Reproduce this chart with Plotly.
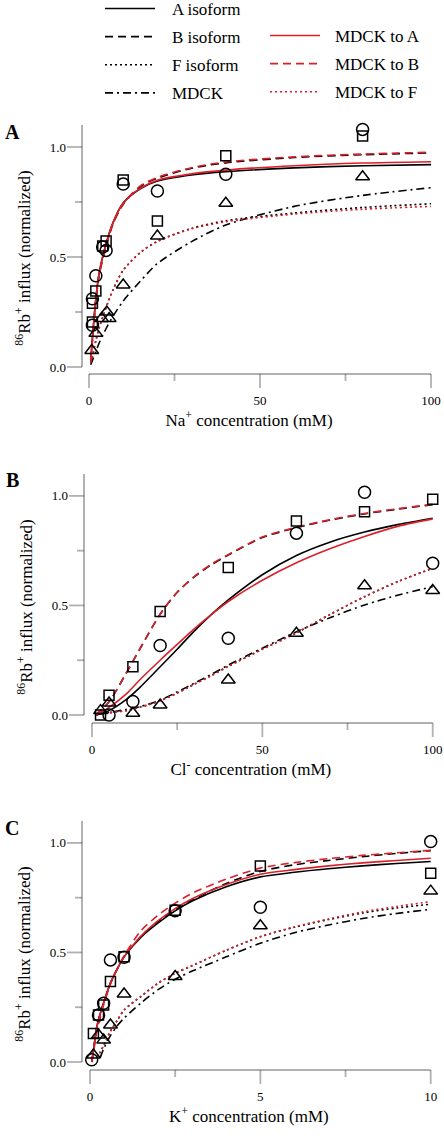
import plotly.graph_objects as go

# ---------------- data ----------------
# Panel A : Na+ dependence
na_fit_x = [0.5, 1, 2, 3, 5, 7, 10, 15, 20, 30, 40, 60, 80, 100]
na_fit_A = [0.03, 0.13, 0.31, 0.43, 0.56, 0.655, 0.745, 0.81, 0.845, 0.873, 0.888, 0.905, 0.915, 0.92]
na_fit_A_red = [0.03, 0.13, 0.31, 0.43, 0.56, 0.655, 0.745, 0.812, 0.849, 0.878, 0.895, 0.915, 0.927, 0.933]
na_fit_B = [0.03, 0.12, 0.3, 0.42, 0.55, 0.65, 0.74, 0.82, 0.858, 0.903, 0.928, 0.952, 0.965, 0.973]
na_fit_B_red = [0.03, 0.12, 0.3, 0.42, 0.55, 0.65, 0.742, 0.823, 0.862, 0.906, 0.932, 0.955, 0.968, 0.976]
na_fit_F = [0.02, 0.05, 0.12, 0.18, 0.27, 0.35, 0.44, 0.52, 0.572, 0.63, 0.665, 0.70, 0.725, 0.742]
na_fit_F_red = [0.02, 0.05, 0.12, 0.18, 0.27, 0.35, 0.44, 0.52, 0.57, 0.628, 0.66, 0.695, 0.717, 0.73]
na_fit_M = [0.01, 0.03, 0.07, 0.11, 0.175, 0.23, 0.30, 0.39, 0.47, 0.57, 0.645, 0.73, 0.78, 0.815]

na_circ_x = [1, 1, 2, 4, 5, 10, 20, 40, 80]
na_circ_y = [0.19, 0.31, 0.415, 0.545, 0.53, 0.832, 0.80, 0.876, 1.08]
na_sq_x = [1, 1, 2, 4, 5, 10, 20, 40, 80]
na_sq_y = [0.205, 0.29, 0.345, 0.55, 0.573, 0.85, 0.664, 0.96, 1.05]
na_tri_x = [0.8, 2, 3.7, 5.2, 5.9, 10, 20, 40, 80]
na_tri_y = [0.075, 0.153, 0.22, 0.25, 0.22, 0.373, 0.595, 0.744, 0.865]

# Panel B : Cl- dependence
cl_fit_x = [1, 5, 10, 14, 20, 25, 30, 35, 40, 50, 60, 70, 80, 90, 100]
cl_fit_A = [0.0, 0.02, 0.07, 0.125, 0.22, 0.3, 0.383, 0.458, 0.525, 0.64, 0.728, 0.79, 0.835, 0.87, 0.898]
cl_fit_A_red = [0.0, 0.035, 0.095, 0.16, 0.25, 0.322, 0.393, 0.458, 0.518, 0.615, 0.695, 0.76, 0.815, 0.862, 0.895]
cl_fit_B = [0.0, 0.06, 0.19, 0.30, 0.46, 0.56, 0.63, 0.685, 0.73, 0.81, 0.855, 0.89, 0.918, 0.94, 0.96]
cl_fit_B_red = [0.0, 0.06, 0.19, 0.30, 0.46, 0.56, 0.632, 0.688, 0.732, 0.812, 0.857, 0.892, 0.92, 0.942, 0.962]
cl_fit_F = [0.0, 0.01, 0.02, 0.035, 0.065, 0.1, 0.14, 0.18, 0.222, 0.30, 0.375, 0.46, 0.54, 0.61, 0.67]
cl_fit_M = [0.0, 0.012, 0.025, 0.038, 0.068, 0.105, 0.145, 0.185, 0.228, 0.305, 0.38, 0.445, 0.502, 0.548, 0.586]

cl_circ_x = [5, 12, 20, 40, 60, 80, 100]
cl_circ_y = [0.0, 0.062, 0.317, 0.35, 0.83, 1.017, 0.693]
cl_sq_x = [2.5, 5, 12, 20, 40, 60, 80, 100]
cl_sq_y = [0.0, 0.09, 0.22, 0.472, 0.673, 0.886, 0.928, 0.985]
cl_tri_x = [2.5, 5, 12, 20, 40, 60, 80, 100]
cl_tri_y = [0.02, 0.055, 0.008, 0.046, 0.16, 0.373, 0.59, 0.568]

# Panel C : K+ dependence
k_fit_x = [0.05, 0.1, 0.2, 0.3, 0.4, 0.6, 0.8, 1, 1.5, 2, 2.5, 3, 4, 5, 6, 7, 8, 9, 10]
k_fit_A = [0.0, 0.05, 0.16, 0.22, 0.27, 0.36, 0.425, 0.48, 0.57, 0.635, 0.69, 0.735, 0.80, 0.845, 0.866, 0.882, 0.895, 0.906, 0.915]
k_fit_A_red = [0.0, 0.05, 0.16, 0.22, 0.27, 0.36, 0.425, 0.48, 0.575, 0.645, 0.70, 0.745, 0.81, 0.857, 0.878, 0.895, 0.909, 0.92, 0.93]
k_fit_B = [0.0, 0.05, 0.16, 0.22, 0.27, 0.36, 0.425, 0.48, 0.575, 0.64, 0.695, 0.74, 0.815, 0.87, 0.90, 0.92, 0.937, 0.952, 0.965]
k_fit_B_red = [0.0, 0.04, 0.14, 0.2, 0.26, 0.355, 0.425, 0.485, 0.60, 0.67, 0.725, 0.77, 0.835, 0.885, 0.91, 0.928, 0.943, 0.955, 0.966]
k_fit_F = [None, None, 0.02, 0.045, 0.075, 0.14, 0.19, 0.237, 0.30, 0.36, 0.405, 0.44, 0.51, 0.572, 0.615, 0.65, 0.68, 0.703, 0.72]
k_fit_F_red = [None, None, 0.02, 0.045, 0.075, 0.14, 0.19, 0.237, 0.30, 0.36, 0.405, 0.44, 0.51, 0.572, 0.617, 0.653, 0.685, 0.71, 0.732]
k_fit_M = [None, None, None, 0.02, 0.06, 0.12, 0.165, 0.2, 0.27, 0.33, 0.378, 0.415, 0.48, 0.542, 0.59, 0.625, 0.655, 0.678, 0.697]

k_circ_x = [0.05, 0.25, 0.4, 0.6, 1, 2.5, 5, 10]
k_circ_y = [0.01, 0.215, 0.268, 0.466, 0.478, 0.69, 0.706, 1.006]
k_sq_x = [0.1, 0.25, 0.4, 0.6, 1, 2.5, 5, 10]
k_sq_y = [0.13, 0.215, 0.26, 0.367, 0.48, 0.693, 0.895, 0.862]
k_tri_x = [0.1, 0.25, 0.4, 0.6, 1, 2.5, 5, 10]
k_tri_y = [0.032, 0.123, 0.1, 0.169, 0.31, 0.39, 0.622, 0.78]

# tick values
conc_ticks_100 = [0, 50, 100]
conc_minor_100 = [25, 75]
conc_ticks_10 = [0, 5, 10]
conc_minor_10 = [2.5, 7.5]
influx_ticks = [0.0, 0.5, 1.0]
influx_minor = [0.25, 0.75]

legend_names = ["A isoform", "B isoform", "F isoform", "MDCK", "MDCK to A", "MDCK to B", "MDCK to F"]
x_titles = ["Na<sup>+</sup> concentration (mM)", "Cl<sup>-</sup> concentration (mM)", "K<sup>+</sup> concentration (mM)"]
y_title = "<sup>86</sup>Rb<sup>+</sup> influx (normalized)"
panel_letters = ["A", "B", "C"]

# ---------------- styling ----------------
W, H = 444, 1138
FONT = "Liberation Serif"
RED = "#d9202b"
BLACK = "#000000"
LW = 1.6
DASH = "8px,5px"
DOT = "2px,3px"
DASHDOT = "8px,4px,2px,4px"
GAP1 = "\u2002\u2009"   # spacing between legend sample and its label
GAP2 = "\u2002\u200a"
AXW = 2      # axis line width
TKW = 1.8    # tick width
MAJ, MIN, YMAJ = 14, 7, 15

fig = go.Figure()

panels = [
    dict(fx=na_fit_x, A=na_fit_A, Ar=na_fit_A_red, B=na_fit_B, Br=na_fit_B_red, F=na_fit_F, Fr=na_fit_F_red, M=na_fit_M,
         cx=na_circ_x, cy=na_circ_y, sx=na_sq_x, sy=na_sq_y, tx=na_tri_x, ty=na_tri_y,
         xt=conc_ticks_100, xm=conc_minor_100),
    dict(fx=cl_fit_x, A=cl_fit_A, Ar=cl_fit_A_red, B=cl_fit_B, Br=cl_fit_B_red, F=cl_fit_F, Fr=cl_fit_F, M=cl_fit_M,
         cx=cl_circ_x, cy=cl_circ_y, sx=cl_sq_x, sy=cl_sq_y, tx=cl_tri_x, ty=cl_tri_y,
         xt=conc_ticks_100, xm=conc_minor_100),
    dict(fx=k_fit_x, A=k_fit_A, Ar=k_fit_A_red, B=k_fit_B, Br=k_fit_B_red, F=k_fit_F, Fr=k_fit_F_red, M=k_fit_M,
         cx=k_circ_x, cy=k_circ_y, sx=k_sq_x, sy=k_sq_y, tx=k_tri_x, ty=k_tri_y,
         xt=conc_ticks_10, xm=conc_minor_10),
]

# pixel geometry: (px of x=0, px of x=max, px of y=0, px of y-axis top, px of x-axis line, px of y-axis line)
geom = [
    (89, 431, 367, 125, 374, 82),
    (92, 432.7, 715, 474, 723, 84),
    (90, 430.7, 1062, 821, 1070, 82),
]
xmax = [100, 100, 10]
letter_y = [132, 480, 828]
YTOP = 1.1

for i, p in enumerate(panels):
    xa = "x" if i == 0 else f"x{i+1}"
    ya = "y" if i == 0 else f"y{i+1}"
    show = i == 0
    curves = [
        (p["A"], BLACK, "solid", GAP1 + legend_names[0], "legend", "gA"),
        (p["B"], BLACK, DASH, GAP1 + legend_names[1], "legend", "gB"),
        (p["F"], BLACK, DOT, GAP1 + legend_names[2], "legend", "gF"),
        (p["M"], BLACK, DASHDOT, GAP1 + legend_names[3], "legend", "gM"),
        (p["Ar"], RED, "solid", GAP2 + legend_names[4], "legend2", "gAr"),
        (p["Br"], RED, DASH, GAP2 + legend_names[5], "legend2", "gBr"),
        (p["Fr"], RED, DOT, GAP2 + legend_names[6], "legend2", "gFr"),
    ]
    for yv, col, dash, name, leg, grp in curves:
        fig.add_trace(go.Scatter(
            x=p["fx"], y=yv, mode="lines", name=name, legend=leg, legendgroup=grp, showlegend=show,
            line=dict(color=col, width=LW, dash=dash, shape="spline", smoothing=0.8),
            xaxis=xa, yaxis=ya, hoverinfo="skip"))
    for mx, my, sym, sz in [(p["cx"], p["cy"], "circle-open", 12),
                            (p["sx"], p["sy"], "square-open", 10),
                            (p["tx"], p["ty"], "triangle-up-open", 12)]:
        fig.add_trace(go.Scatter(
            x=mx, y=my, mode="markers", showlegend=False, cliponaxis=False,
            marker=dict(symbol=sym, size=sz, color=BLACK, line=dict(width=1.5, color=BLACK)),
            xaxis=xa, yaxis=ya))

layout = dict(
    template="simple_white",
    width=W, height=H, margin=dict(l=0, r=0, t=0, b=0, autoexpand=False),
    paper_bgcolor="white", plot_bgcolor="rgba(0,0,0,0)",
    font=dict(family=FONT, color="black", size=13),
    legend=dict(x=100 / W, xanchor="left", y=1 + 9 / H, yanchor="top", font=dict(size=17, family=FONT),
                bgcolor="rgba(0,0,0,0)", itemwidth=50, tracegroupgap=3),
    legend2=dict(x=265 / W, xanchor="left", y=1 - 18 / H, yanchor="top", font=dict(size=17, family=FONT),
                 bgcolor="rgba(0,0,0,0)", itemwidth=50, tracegroupgap=3),
)

annotations = []
shapes = []
for i, (x0, x1, y0, ytop, xline, yline) in enumerate(geom):
    p = panels[i]
    xk = "xaxis" if i == 0 else f"xaxis{i+1}"
    yk = "yaxis" if i == 0 else f"yaxis{i+1}"
    xa = "x" if i == 0 else f"x{i+1}"
    ya = "y" if i == 0 else f"y{i+1}"
    xscale = (x1 - x0) / xmax[i]          # px per x unit
    yscale = (y0 - ytop) / YTOP           # px per y unit
    left_px = yline - YMAJ - 3            # plot area includes the tick region
    bottom_px = xline + MAJ + 3
    xlo = -(x0 - left_px) / xscale
    ylo = -(bottom_px - y0) / yscale
    xhi = xmax[i] + 3 / xscale
    layout[xk] = dict(
        domain=[left_px / W, (x1 + 3) / W], range=[xlo, xhi], anchor=ya,
        showline=False, showgrid=False, zeroline=False, ticks="", tickvals=p["xt"],
        tickfont=dict(size=13, family=FONT), ticklabelstandoff=0,
        title=dict(text=x_titles[i], font=dict(size=17, family=FONT), standoff=4),
    )
    layout[yk] = dict(
        domain=[1 - bottom_px / H, 1 - ytop / H], range=[ylo, YTOP], anchor=xa,
        showline=False, showgrid=False, zeroline=False, ticks="", tickvals=influx_ticks,
        tickformat=".1f", tickfont=dict(size=13, family=FONT), ticklabelstandoff=-3,
        title=dict(text=y_title, font=dict(size=17, family=FONT), standoff=14),
    )

    # detached (Igor-style) axis lines and ticks, in data units of each panel
    x_line_at = -(xline - y0) / yscale     # y value where the x-axis line sits
    y_line_at = -(x0 - yline) / xscale     # x value where the y-axis line sits
    line_style = dict(color="black", width=AXW)
    tick_style = dict(color="black", width=TKW)
    shapes.append(dict(type="line", xref=xa, yref=ya, x0=0, x1=xmax[i], y0=x_line_at, y1=x_line_at, line=line_style))
    for t in p["xt"]:
        shapes.append(dict(type="line", xref=xa, yref=ya, x0=t, x1=t, y0=x_line_at, y1=x_line_at - MAJ / yscale,
                           line=tick_style))
    for t in p["xm"]:
        shapes.append(dict(type="line", xref=xa, yref=ya, x0=t, x1=t, y0=x_line_at, y1=x_line_at - MIN / yscale,
                           line=tick_style))
    shapes.append(dict(type="line", xref=xa, yref=ya, x0=y_line_at, x1=y_line_at, y0=0, y1=YTOP, line=line_style))
    for t in influx_ticks:
        shapes.append(dict(type="line", xref=xa, yref=ya, x0=y_line_at, x1=y_line_at - YMAJ / xscale, y0=t, y1=t,
                           line=tick_style))
    for t in influx_minor:
        shapes.append(dict(type="line", xref=xa, yref=ya, x0=y_line_at, x1=y_line_at - MIN / xscale, y0=t, y1=t,
                           line=tick_style))

    annotations.append(dict(text=f"<b>{panel_letters[i]}</b>", x=12 / W, y=1 - letter_y[i] / H,
                            xref="paper", yref="paper", xanchor="center", yanchor="middle",
                            showarrow=False, font=dict(size=20, family=FONT)))
layout["annotations"] = annotations
layout["shapes"] = shapes

fig.update_layout(**layout)
fig.write_html("out.html", config={"staticPlot": True, "displayModeBar": False},
               post_script="document.body.style.margin='0px';document.body.style.padding='0px';")
